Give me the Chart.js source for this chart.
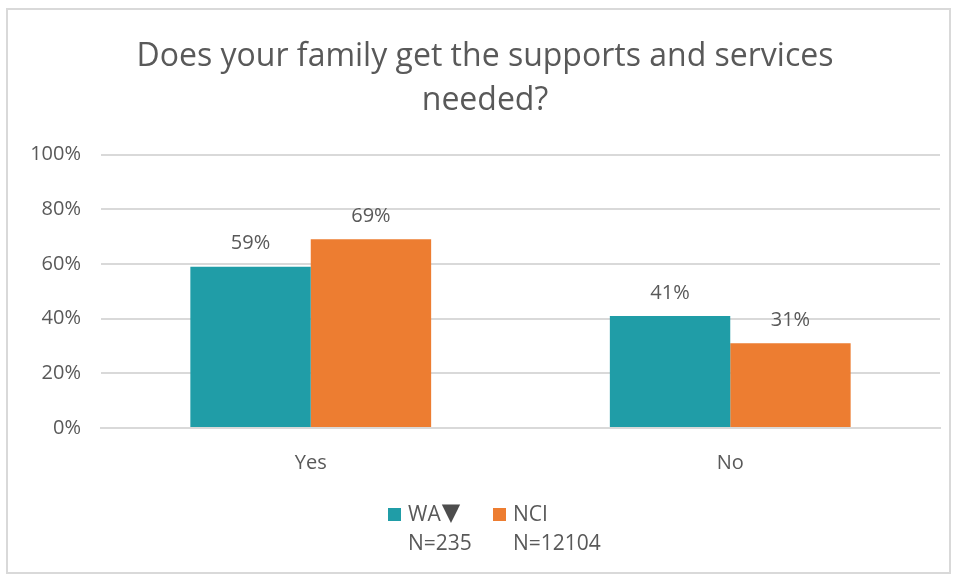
<!DOCTYPE html>
<html>
<head>
<meta charset="utf-8">
<script src="https://cdn.jsdelivr.net/npm/chart.js@4"></script>
<style>
  body { margin: 0; background: #fff; }
  #box { position: absolute; left: 6px; top: 8px; width: 941px; height: 562px; border: 2px solid #d9d9d9; }
  canvas { display: block; }
</style>
</head>
<body>
<div id="box"><canvas id="chart" width="941" height="562"></canvas></div>
<script>
const categories = ['Yes', 'No'];
const waValues = [59, 41];
const nciValues = [69, 31];
const seriesNames = ['WA', 'NCI'];
const seriesMarks = ['\u25BC', ''];
const seriesCounts = ['N=235', 'N=12104'];
const yTicks = [0, 20, 40, 60, 80, 100];

const textColor = '#595959';
const fontFamily = '"Open Sans", "Noto Sans", sans-serif';

//draw the percentage above each bar
const barLabels = {
    id: 'barLabels',
    afterDatasetsDraw(chart) {
        const ctx = chart.ctx;
        ctx.save();
        ctx.font = '20px ' + fontFamily;
        ctx.fillStyle = textColor;
        ctx.textAlign = 'center';
        ctx.textBaseline = 'middle';
        chart.data.datasets.forEach((ds, i) => {
            chart.getDatasetMeta(i).data.forEach((bar, j) => {
                ctx.fillText(ds.data[j] + '%', bar.x, bar.y - 23);
            });
        });
        ctx.restore();
    }
};

//legend with two lines per entry (name and N)
const twoLineLegend = {
    id: 'twoLineLegend',
    afterDraw(chart) {
        const ctx = chart.ctx;
        const xs = [380, 485];
        ctx.save();
        ctx.textBaseline = 'middle';
        chart.data.datasets.forEach((ds, i) => {
            ctx.fillStyle = ds.backgroundColor;
            ctx.fillRect(xs[i], 498, 13, 13);
            ctx.fillStyle = textColor;
            ctx.font = '21px ' + fontFamily;
            ctx.fillText(seriesNames[i], xs[i] + 20, 505);
            const w = ctx.measureText(seriesNames[i]).width;
            ctx.fillText(seriesCounts[i], xs[i] + 20, 534);
            if (seriesMarks[i]) {
                ctx.fillStyle = '#4d4d4d';
                ctx.font = '24px "DejaVu Sans", sans-serif';
                ctx.fillText(seriesMarks[i], xs[i] + 21 + w, 504);
            }
        });
        ctx.restore();
    }
};

new Chart(document.getElementById('chart'), {
    type: 'bar',
    data: {
        labels: categories,
        datasets: [
            { label: seriesNames[0], data: waValues, backgroundColor: '#209DA7' },
            { label: seriesNames[1], data: nciValues, backgroundColor: '#ED7D31' }
        ]
    },
    options: {
        responsive: false,
        animation: false,
        layout: { padding: { left: 22, right: 9, top: 0, bottom: 0 } },
        categoryPercentage: 0.574,
        barPercentage: 1,
        plugins: {
            legend: { display: false },
            tooltip: { enabled: false },
            title: {
                display: true,
                text: ['Does your family get the supports and services', 'needed?'],
                color: textColor,
                font: { family: fontFamily, size: 32, weight: 'normal', lineHeight: 1.4 },
                padding: { top: 24, bottom: 31 }
            }
        },
        scales: {
            x: {
                grid: { display: false },
                border: { color: '#d9d9d9', width: 2 },
                ticks: { color: textColor, font: { family: fontFamily, size: 20 }, padding: 15 },
                afterFit(scale) { scale.height = 144; }
            },
            y: {
                min: 0,
                max: 100,
                afterBuildTicks(scale) { scale.ticks = yTicks.map(v => ({ value: v })); },
                afterFit(scale) { scale.width = 71; },
                grid: { color: '#d9d9d9', lineWidth: 2, drawTicks: false },
                border: { display: false },
                ticks: {
                    color: textColor,
                    font: { family: fontFamily, size: 20 },
                    padding: 20,
                    callback: v => v + '%'
                }
            }
        }
    },
    plugins: [barLabels, twoLineLegend]
});
</script>
</body>
</html>
